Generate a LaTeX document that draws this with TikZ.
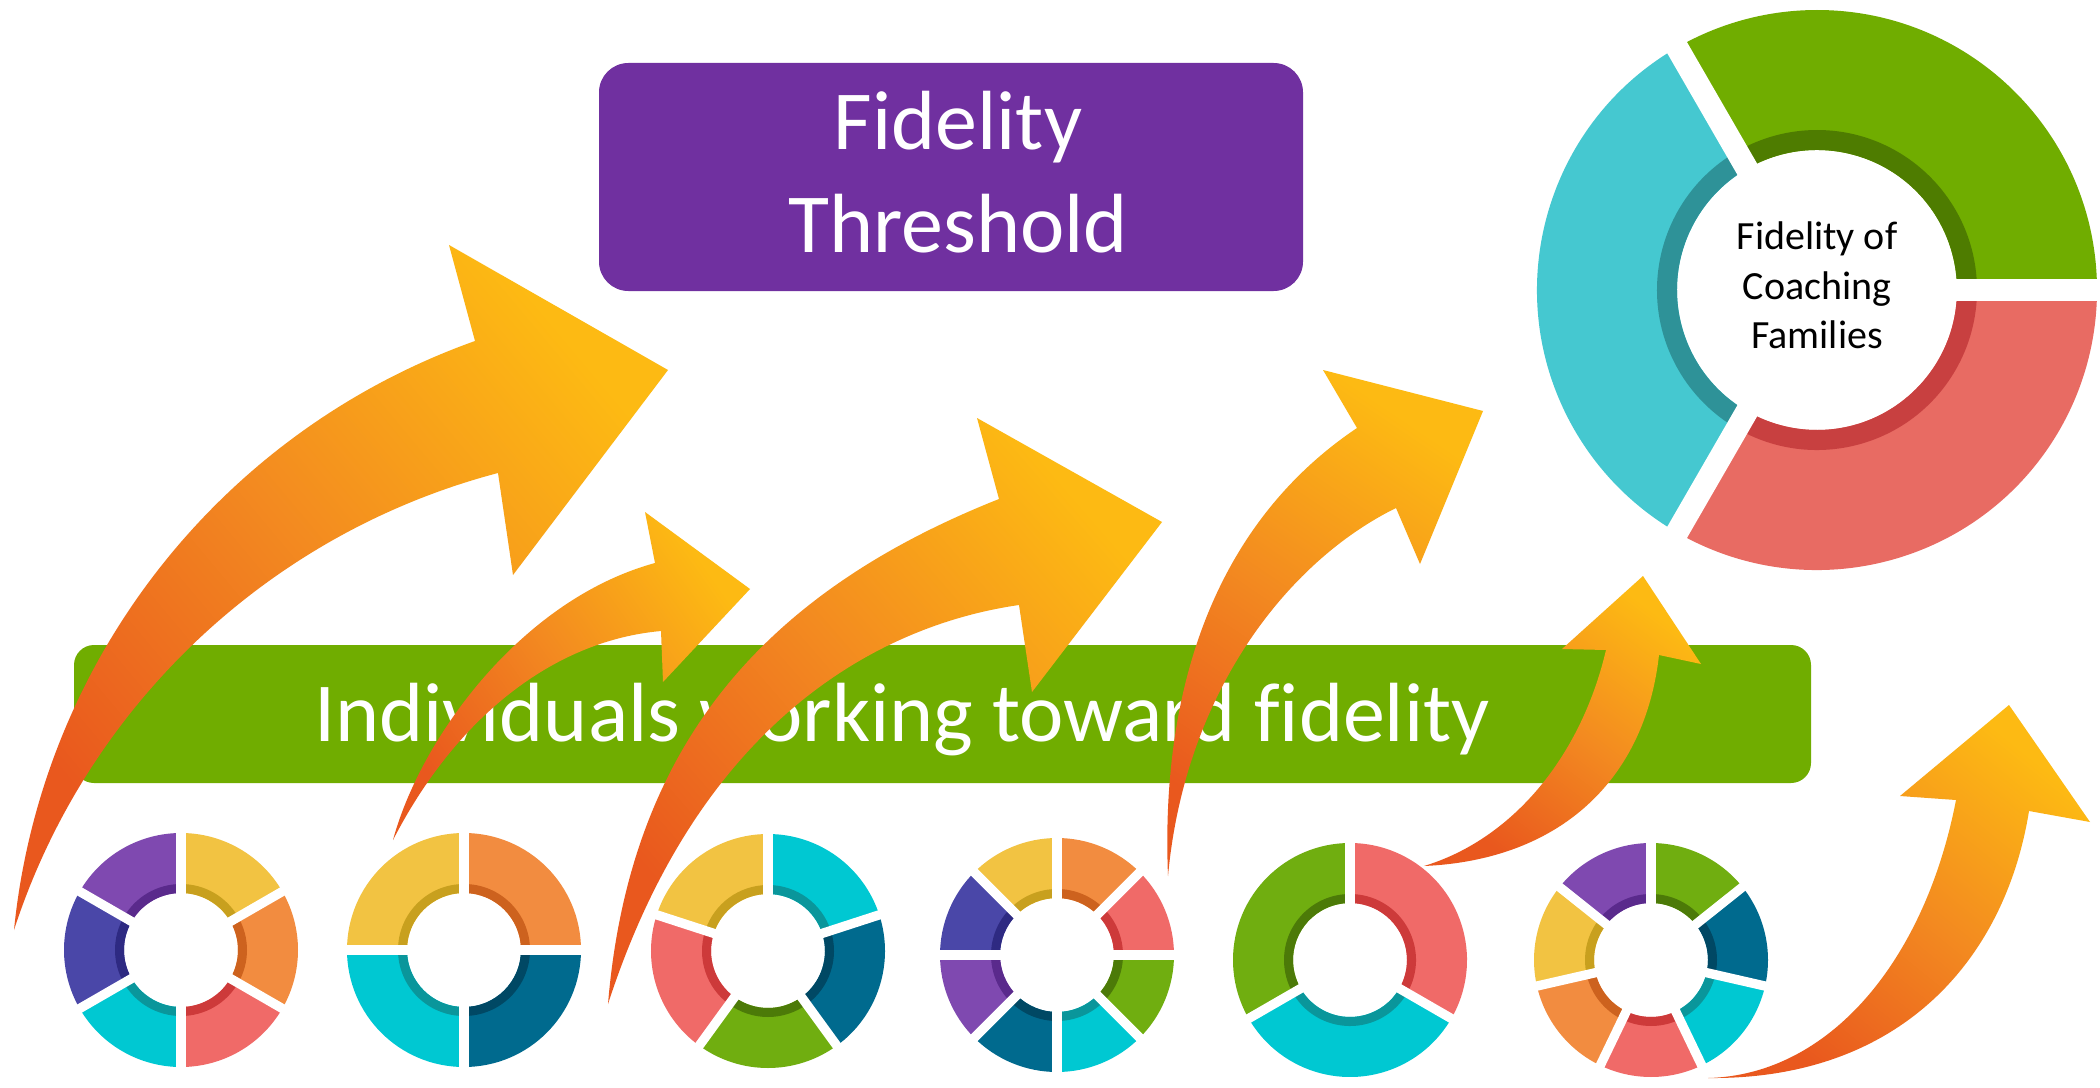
\documentclass[tikz,border=0pt]{standalone}
\usepackage{fontspec}
\setmainfont{Carlito}[Ligatures=NoCommon]

\definecolor{boxpurple}{RGB}{112,48,160}
\definecolor{boxgreen}{RGB}{112,173,0}
\definecolor{biggreendk}{RGB}{78,124,0}
\definecolor{bigcyan}{RGB}{69,200,208}
\definecolor{bigcyandk}{RGB}{46,146,152}
\definecolor{bigred}{RGB}{232,107,99}
\definecolor{bigreddk}{RGB}{200,64,64}
\definecolor{arrowred}{RGB}{233,88,30}
\definecolor{arroworange}{RGB}{243,138,32}
\definecolor{arrowyellow}{RGB}{253,186,19}
\definecolor{segpurple}{RGB}{127,73,176}
\definecolor{segpurpledk}{RGB}{90,42,140}
\definecolor{segyellow}{RGB}{242,195,66}
\definecolor{segyellowdk}{RGB}{200,160,30}
\definecolor{segorange}{RGB}{242,140,64}
\definecolor{segorangedk}{RGB}{205,98,30}
\definecolor{segsalmon}{RGB}{240,106,104}
\definecolor{segsalmondk}{RGB}{205,58,58}
\definecolor{segcyan}{RGB}{0,200,210}
\definecolor{segcyandk}{RGB}{10,150,155}
\definecolor{segindigo}{RGB}{74,71,168}
\definecolor{segindigodk}{RGB}{46,42,130}
\definecolor{segteal}{RGB}{0,106,142}
\definecolor{segtealdk}{RGB}{0,72,100}
\definecolor{seggreen}{RGB}{112,174,16}
\definecolor{seggreendk}{RGB}{76,122,8}

\tikzset{every picture/.style={line width=0.75pt}}
\tikzset{
  bigtext/.style={text=white, inner sep=0pt, font=\fontsize{63}{76}\selectfont},
  ringtext/.style={text=black, inner sep=0pt, font=\fontsize{30}{36}\selectfont},
  arrowbody/.style={top color=arrowyellow, bottom color=arrowred, middle color=arroworange}
}

% one coloured piece of a ring: centre, from, to, outer r, inner r, band, colour, band colour
\newcommand{\ringpiece}[8]{%
  \fill[#7, shift={(#1)}, yscale=-1] (#2:#4) arc[start angle=#2, end angle=#3, radius=#4] -- (#3:#5) arc[start angle=#3, end angle=#2, radius=#5] -- cycle;
  \fill[#8, shift={(#1)}, yscale=-1] (#2:{#5+#6}) arc[start angle=#2, end angle=#3, radius={#5+#6}] -- (#3:#5) arc[start angle=#3, end angle=#2, radius=#5] -- cycle;
}
% white cut between two pieces: centre, angle, length, width
\newcommand{\ringgap}[4]{%
  \draw[white, line width=#4, shift={(#1)}, yscale=-1] (#2:0) -- (#2:#3);
}

\begin{document}
\begin{tikzpicture}[x=0.75pt,y=0.75pt,yscale=-1,xscale=1]
%set diagram left start at 0, and has height of 1088
\fill[white] (0,0) rectangle (2100,1088);
\useasboundingbox (0,0) rectangle (2100,1088);

%Shape: Rectangle [threshold box]
\fill[boxpurple, rounded corners=22pt] (599,63) rectangle (1303,291);
% Text Node
\node[bigtext, anchor=base] (fidelity) at (958,149) {Fidelity};
% Text Node
\node[bigtext, anchor=base] (threshold) at (958,252) {Threshold};

%Shape: Rectangle [individuals band]
\fill[boxgreen, rounded corners=15pt] (74,645) rectangle (1811,783);
% Text Node
\node[bigtext, anchor=base] (working) at (902,741) {Individuals working toward fidelity};

%Shape: Ring [coaching families]
\ringpiece{1817,290}{0}{120}{280}{140}{20}{boxgreen}{biggreendk}
\ringpiece{1817,290}{120}{240}{280}{140}{20}{bigcyan}{bigcyandk}
\ringpiece{1817,290}{240}{360}{280}{140}{20}{bigred}{bigreddk}
\ringgap{1817,290}{0}{284}{17pt}
\ringgap{1817,290}{120}{284}{17pt}
\ringgap{1817,290}{240}{284}{17pt}
% Text Node
\node[ringtext, anchor=base] (fidof) at (1817,249) {Fidelity of};
% Text Node
\node[ringtext, anchor=base] (coaching) at (1817,299) {Coaching};
% Text Node
\node[ringtext, anchor=base] (families) at (1817,348) {Families};

%Shape: Ring 1
\ringpiece{181,950}{90}{150}{117}{57}{9}{segpurple}{segpurpledk}
\ringpiece{181,950}{30}{90}{117}{57}{9}{segyellow}{segyellowdk}
\ringpiece{181,950}{-30}{30}{117}{57}{9}{segorange}{segorangedk}
\ringpiece{181,950}{-90}{-30}{117}{57}{9}{segsalmon}{segsalmondk}
\ringpiece{181,950}{-150}{-90}{117}{57}{9}{segcyan}{segcyandk}
\ringpiece{181,950}{150}{210}{117}{57}{9}{segindigo}{segindigodk}
\ringgap{181,950}{90}{120}{7pt}
\ringgap{181,950}{30}{120}{7pt}
\ringgap{181,950}{-30}{120}{7pt}
\ringgap{181,950}{-90}{120}{7pt}
\ringgap{181,950}{-150}{120}{7pt}
\ringgap{181,950}{150}{120}{7pt}

%Shape: Ring 2
\ringpiece{464,950}{90}{180}{117}{57}{9}{segyellow}{segyellowdk}
\ringpiece{464,950}{0}{90}{117}{57}{9}{segorange}{segorangedk}
\ringpiece{464,950}{180}{270}{117}{57}{9}{segcyan}{segcyandk}
\ringpiece{464,950}{270}{360}{117}{57}{9}{segteal}{segtealdk}
\ringgap{464,950}{0}{120}{7pt}
\ringgap{464,950}{90}{120}{7pt}
\ringgap{464,950}{180}{120}{7pt}
\ringgap{464,950}{270}{120}{7pt}

%Shape: Ring 3
\ringpiece{768,951}{90}{162}{117}{57}{9}{segyellow}{segyellowdk}
\ringpiece{768,951}{18}{90}{117}{57}{9}{segcyan}{segcyandk}
\ringpiece{768,951}{-54}{18}{117}{57}{9}{segteal}{segtealdk}
\ringpiece{768,951}{-126}{-54}{117}{57}{9}{seggreen}{seggreendk}
\ringpiece{768,951}{162}{234}{117}{57}{9}{segsalmon}{segsalmondk}
\ringgap{768,951}{90}{120}{7pt}
\ringgap{768,951}{18}{120}{7pt}
\ringgap{768,951}{-54}{120}{7pt}
\ringgap{768,951}{-126}{120}{7pt}
\ringgap{768,951}{162}{120}{7pt}

%Shape: Ring 4
\ringpiece{1057,955}{90}{135}{117}{57}{9}{segyellow}{segyellowdk}
\ringpiece{1057,955}{45}{90}{117}{57}{9}{segorange}{segorangedk}
\ringpiece{1057,955}{0}{45}{117}{57}{9}{segsalmon}{segsalmondk}
\ringpiece{1057,955}{-45}{0}{117}{57}{9}{seggreen}{seggreendk}
\ringpiece{1057,955}{-90}{-45}{117}{57}{9}{segcyan}{segcyandk}
\ringpiece{1057,955}{225}{270}{117}{57}{9}{segteal}{segtealdk}
\ringpiece{1057,955}{180}{225}{117}{57}{9}{segpurple}{segpurpledk}
\ringpiece{1057,955}{135}{180}{117}{57}{9}{segindigo}{segindigodk}
\ringgap{1057,955}{0}{120}{7pt}
\ringgap{1057,955}{45}{120}{7pt}
\ringgap{1057,955}{90}{120}{7pt}
\ringgap{1057,955}{135}{120}{7pt}
\ringgap{1057,955}{180}{120}{7pt}
\ringgap{1057,955}{225}{120}{7pt}
\ringgap{1057,955}{270}{120}{7pt}
\ringgap{1057,955}{315}{120}{7pt}

%Shape: Ring 5
\ringpiece{1350,960}{90}{210}{117}{57}{9}{seggreen}{seggreendk}
\ringpiece{1350,960}{-30}{90}{117}{57}{9}{segsalmon}{segsalmondk}
\ringpiece{1350,960}{210}{330}{117}{57}{9}{segcyan}{segcyandk}
\ringgap{1350,960}{90}{120}{7pt}
\ringgap{1350,960}{-30}{120}{7pt}
\ringgap{1350,960}{210}{120}{7pt}

%Shape: Ring 6
\ringpiece{1651,960}{38.57}{90}{117}{57}{9}{seggreen}{seggreendk}
\ringpiece{1651,960}{-12.86}{38.57}{117}{57}{9}{segteal}{segtealdk}
\ringpiece{1651,960}{-64.29}{-12.86}{117}{57}{9}{segcyan}{segcyandk}
\ringpiece{1651,960}{-115.71}{-64.29}{117}{57}{9}{segsalmon}{segsalmondk}
\ringpiece{1651,960}{-167.14}{-115.71}{117}{57}{9}{segorange}{segorangedk}
\ringpiece{1651,960}{141.43}{192.86}{117}{57}{9}{segyellow}{segyellowdk}
\ringpiece{1651,960}{90}{141.43}{117}{57}{9}{segpurple}{segpurpledk}
\ringgap{1651,960}{90}{120}{7pt}
\ringgap{1651,960}{38.57}{120}{7pt}
\ringgap{1651,960}{-12.86}{120}{7pt}
\ringgap{1651,960}{-64.29}{120}{7pt}
\ringgap{1651,960}{-115.71}{120}{7pt}
\ringgap{1651,960}{-167.14}{120}{7pt}
\ringgap{1651,960}{141.43}{120}{7pt}

%Curve Lines [arrow 1]
\path[arrowbody, shading angle=-50] (14,930) .. controls (41,661) and (220,432) .. (475,341) -- (449,245) -- (668,370) -- (513,575) -- (498,473) .. controls (270,533) and (87,705) .. (14,930) -- cycle;
%Curve Lines [arrow 2]
\path[arrowbody, shading angle=-55] (393,840) .. controls (420,740) and (520,600) .. (655,563) -- (645,512) -- (750,589) -- (663,682) -- (661,631) .. controls (560,640) and (460,710) .. (393,840) -- cycle;
%Curve Lines [arrow 3]
\path[arrowbody, shading angle=-49] (608,1004) .. controls (630,740) and (770,590) .. (999,499) -- (977,418) -- (1162,522) -- (1032,692) -- (1019,605) .. controls (880,625) and (700,720) .. (608,1004) -- cycle;
%Curve Lines [arrow 4]
\path[arrowbody, shading angle=-34] (1168,876) .. controls (1160,680) and (1220,520) .. (1357,428) -- (1323,370) -- (1483,411) -- (1420,564) -- (1396,508) .. controls (1290,560) and (1185,690) .. (1168,876) -- cycle;
%Curve Lines [arrow 5]
\path[arrowbody, shading angle=-37] (1424,866) .. controls (1510,840) and (1580,760) .. (1606,650) -- (1562,649) -- (1643,576) -- (1701,664) -- (1659,655) .. controls (1645,780) and (1560,860) .. (1424,866) -- cycle;
%Curve Lines [arrow 6]
\path[arrowbody, shading angle=-39] (1708,1078) .. controls (1830,1075) and (1925,960) .. (1956,800) -- (1900,796) -- (2009,705) -- (2090,822) -- (2029,811) .. controls (2005,960) and (1900,1080) .. (1708,1078) -- cycle;

\end{tikzpicture}
\end{document}
